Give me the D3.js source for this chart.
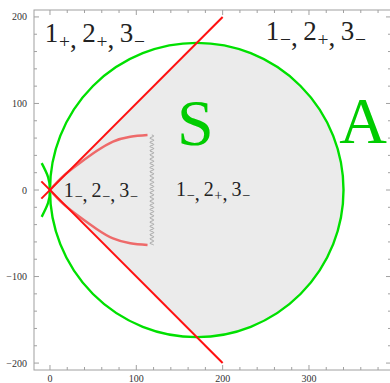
<!DOCTYPE html>
<html>
<head>
<meta charset="utf-8">
<script src="https://cdn.jsdelivr.net/npm/d3@7"></script>
<style>
  html, body { margin: 0; padding: 0; background: #fff; }
  svg { display: block; }
</style>
</head>
<body>
<svg id="chart" width="390" height="383"></svg>
<script>
// ---- data (plot units) ----
const xTickLabels = [0, 100, 200, 300];
const yTickLabels = [-200, -100, 0, 100, 200];
const minorStep = 20;

// boundary circle of region S
const circleCenter = [170, 0];
const circleRadius = 170;

// straight red boundaries crossing at the origin
const redUpper = [[-10, -10], [200, 200]];
const redLower = [[-10, 10], [200, -200]];

// curved pink boundaries (upper and lower branch)
const pinkUpper = [[0, 0], [15, 15.8], [35, 31.5], [54, 45], [73, 56], [93, 61.6], [113, 63.6]];
const pinkLower = [[0, 0], [15, -15.8], [35, -31.5], [54, -45], [73, -56], [93, -61.6], [113, -63.6]];

// small arc crossing the origin
const smallArc = [[-9.6, 31], [-2.2, 15], [0, 0], [-2.2, -15], [-9.6, -31]];

// wavy cut
const waveX = 118;
const waveY = [-63.6, 63.6];

// region labels: [x, y, [[digit, sign], ...], font size]
const signLabels = [
  { x: -6,  y: 171, parts: [["1", "+"], ["2", "+"], ["3", "−"]], size: 27 },
  { x: 250, y: 173, parts: [["1", "−"], ["2", "+"], ["3", "−"]], size: 27 },
  { x: 16,  y: -8,  parts: [["1", "−"], ["2", "−"], ["3", "−"]], size: 20 },
  { x: 146, y: -7,  parts: [["1", "−"], ["2", "+"], ["3", "−"]], size: 20 }
];
const bigLetters = [
  { x: 147, y: 52, text: "S" },
  { x: 335, y: 54, text: "A" }
];

// ---- layout ----
const svg = d3.select("#chart");
const frame = { left: 34, right: 391, top: 10, bottom: 370 };
const x = d3.scaleLinear().domain([-18.5, 395]).range([frame.left, frame.right]);
const y = d3.scaleLinear().domain([-208, 208]).range([frame.bottom, frame.top]);

const green = "#00e000";
const red = "#ff1010";
const pink = "#ee6a6a";
const serif = "'Liberation Serif', 'DejaVu Serif', serif";

svg.append("defs").append("clipPath").attr("id", "clip")
  .append("rect")
  .attr("x", frame.left).attr("y", frame.top)
  .attr("width", frame.right - frame.left).attr("height", frame.bottom - frame.top);

const plot = svg.append("g").attr("clip-path", "url(#clip)");

const rx = x(circleCenter[0] + circleRadius) - x(circleCenter[0]);
const ry = y(circleCenter[1]) - y(circleCenter[1] + circleRadius);

// shaded sector between the red lines, closed by the circle
const topPt = [circleCenter[0], circleRadius];
const botPt = [circleCenter[0], -circleRadius];
plot.append("path")
  .attr("d", `M${x(0)},${y(0)} L${x(topPt[0])},${y(topPt[1])} ` +
             `A${rx},${ry} 0 0 1 ${x(botPt[0])},${y(botPt[1])} Z`)
  .attr("fill", "#ebebeb");

// big circle
plot.append("ellipse")
  .attr("cx", x(circleCenter[0])).attr("cy", y(circleCenter[1]))
  .attr("rx", rx).attr("ry", ry)
  .attr("fill", "none").attr("stroke", green).attr("stroke-width", 2.4);

const line = d3.line().x(d => x(d[0])).y(d => y(d[1]));
const smooth = d3.line().x(d => x(d[0])).y(d => y(d[1])).curve(d3.curveNatural);

plot.append("path").attr("d", smooth(smallArc))
  .attr("fill", "none").attr("stroke", green).attr("stroke-width", 2.4);

// pink curves
[pinkUpper, pinkLower].forEach(pts => {
  plot.append("path").attr("d", smooth(pts))
    .attr("fill", "none").attr("stroke", pink).attr("stroke-width", 2.4);
});

// red lines
[redUpper, redLower].forEach(pts => {
  plot.append("path").attr("d", line(pts))
    .attr("fill", "none").attr("stroke", red).attr("stroke-width", 2);
});

// wavy vertical cut
{
  const px = x(waveX), y0 = y(waveY[1]), y1 = y(waveY[0]);
  const period = 4.2, amp = 2;
  const pts = [];
  for (let yy = y0; yy <= y1 + 0.01; yy += 0.5) {
    pts.push([px + amp * Math.sin((yy - y0) / period * 2 * Math.PI), yy]);
  }
  plot.append("path").attr("d", d3.line()(pts))
    .attr("fill", "none").attr("stroke", "#a8a8a8").attr("stroke-width", 1);
}

// labels with signed subscripts
signLabels.forEach(l => {
  const t = plot.append("text")
    .attr("x", x(l.x)).attr("y", y(l.y))
    .attr("font-family", serif).attr("font-size", l.size).attr("fill", "#222");
  const sub = l.size * 0.72;
  const drop = l.size * 0.22;
  l.parts.forEach((p, i) => {
    t.append("tspan").text(p[0]).attr("dy", i === 0 ? 0 : -drop)
      .attr("dx", i === 0 ? 0 : l.size * 0.2);
    t.append("tspan").text(p[1]).attr("font-size", sub).attr("dy", drop)
      .attr("dx", l.size * 0.03);
    if (i < l.parts.length - 1) {
      t.append("tspan").text(",").attr("dy", 0);
    }
  });
});

bigLetters.forEach(b => {
  plot.append("text").attr("x", x(b.x)).attr("y", y(b.y))
    .attr("font-family", serif).attr("font-size", 66).attr("fill", "#00cc00")
    .text(b.text);
});

// ---- frame and ticks ----
const axisColor = "#a0a0a0";
svg.append("rect")
  .attr("x", frame.left).attr("y", frame.top)
  .attr("width", frame.right - frame.left).attr("height", frame.bottom - frame.top)
  .attr("fill", "none").attr("stroke", axisColor).attr("stroke-width", 1);

const ticks = svg.append("g").attr("stroke", axisColor).attr("stroke-width", 1);
const xMinor = d3.range(-minorStep, 400, minorStep).filter(v => x(v) >= frame.left && x(v) <= frame.right);
const yMinor = d3.range(-200, 201, minorStep);
xMinor.forEach(v => {
  const len = v % 100 === 0 ? 5 : 3;
  ticks.append("line").attr("x1", x(v)).attr("x2", x(v)).attr("y1", frame.bottom).attr("y2", frame.bottom - len);
  ticks.append("line").attr("x1", x(v)).attr("x2", x(v)).attr("y1", frame.top).attr("y2", frame.top + len);
});
yMinor.forEach(v => {
  const len = v % 100 === 0 ? 5 : 3;
  ticks.append("line").attr("y1", y(v)).attr("y2", y(v)).attr("x1", frame.left).attr("x2", frame.left + len);
  ticks.append("line").attr("y1", y(v)).attr("y2", y(v)).attr("x1", frame.right).attr("x2", frame.right - len);
});

const fmt = v => v < 0 ? "−" + Math.abs(v) : String(v);
svg.append("g").selectAll("text").data(xTickLabels).join("text")
  .attr("x", d => x(d)).attr("y", frame.bottom + 12)
  .attr("text-anchor", "middle")
  .attr("font-family", serif).attr("font-size", 10).attr("fill", "#333")
  .text(fmt);
svg.append("g").selectAll("text").data(yTickLabels).join("text")
  .attr("x", frame.left - 7).attr("y", d => y(d) + 3.5)
  .attr("text-anchor", "end")
  .attr("font-family", serif).attr("font-size", 10).attr("fill", "#333")
  .text(fmt);
</script>
</body>
</html>
